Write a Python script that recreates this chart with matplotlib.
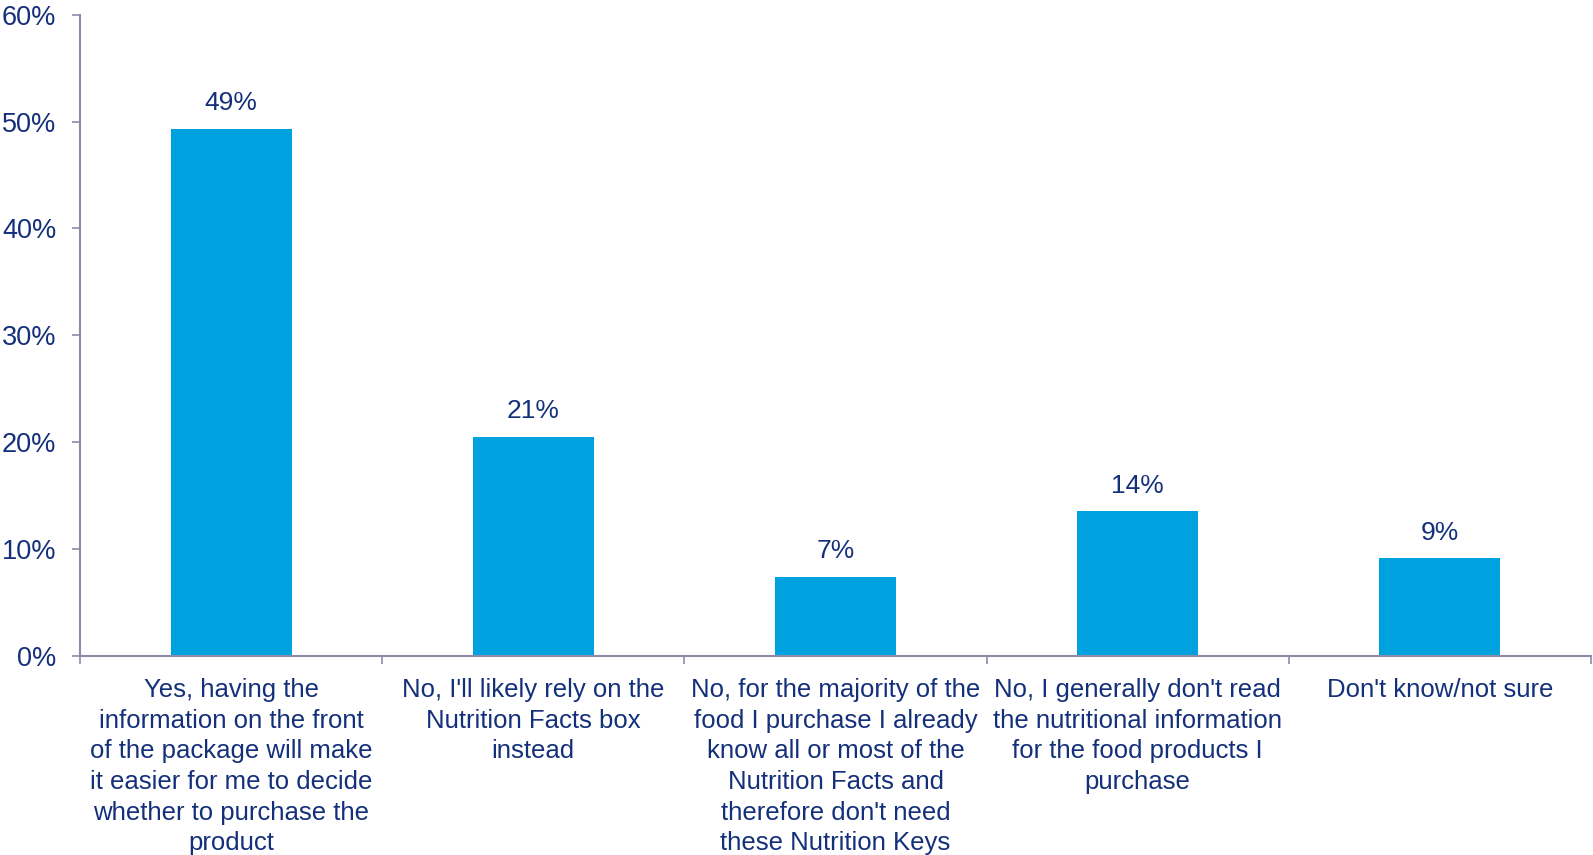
import matplotlib
matplotlib.use("Agg")
import matplotlib.pyplot as plt
from matplotlib.ticker import FixedLocator, PercentFormatter

categories = [
    "Yes, having the\ninformation on the front\nof the package will make\nit easier for me to decide\nwhether to purchase the\nproduct",
    "No, I'll likely rely on the\nNutrition Facts box\ninstead",
    "No, for the majority of the\nfood I purchase I already\nknow all or most of the\nNutrition Facts and\ntherefore don't need\nthese Nutrition Keys",
    "No, I generally don't read\nthe nutritional information\nfor the food products I\npurchase",
    "Don't know/not sure",
]
values = [49.3, 20.5, 7.4, 13.5, 9.1]
value_labels = ["49%", "21%", "7%", "14%", "9%"]
yticks = [0, 10, 20, 30, 40, 50, 60]

bar_color = "#00A1DF"
text_color = "#14307A"
axis_color = "#8C8CAA"
main_font = ['Liberation Sans', 'DejaVu Sans']

plt.rcParams['font.family'] = main_font

fig = plt.figure(figsize=(15.93, 8.55), dpi=100)
ax = fig.add_axes([80/1593, 1-655.7/855, (1591-80)/1593, (655.7-14.7)/855])

x = list(range(len(categories)))
ax.bar(x, values, width=0.4, color=bar_color, zorder=2)
for xi, v, lab in zip(x, values, value_labels):
    ax.annotate(lab, (xi, v), xytext=(0, 10), textcoords="offset points",
                ha="center", va="bottom", color=text_color, fontsize=19)

ax.set_xlim(-0.5, len(categories) - 0.5)
ax.set_ylim(0, 60)
ax.set_yticks(yticks)
ax.yaxis.set_major_formatter(PercentFormatter(decimals=0))

ax.xaxis.set_major_locator(FixedLocator([i - 0.5 for i in range(len(categories) + 1)]))
ax.xaxis.set_minor_locator(FixedLocator(x))
ax.set_xticklabels([])
ax.set_xticklabels(categories, minor=True)
ax.tick_params(axis="x", which="major", length=6, width=1.2, color=axis_color, direction="out")
ax.tick_params(axis="x", which="minor", length=0, pad=16, labelsize=18.5, labelcolor=text_color)
for lab in ax.get_xticklabels(minor=True):
    lab.set_linespacing(1.35)
ax.tick_params(axis="y", length=6, width=1.2, color=axis_color, labelsize=19.5,
               labelcolor=text_color, pad=11)

for side in ["top", "right"]:
    ax.spines[side].set_visible(False)
for side in ["left", "bottom"]:
    ax.spines[side].set_color(axis_color)
    ax.spines[side].set_linewidth(1.5)

fig.savefig("out.png", dpi=100, facecolor="white")
